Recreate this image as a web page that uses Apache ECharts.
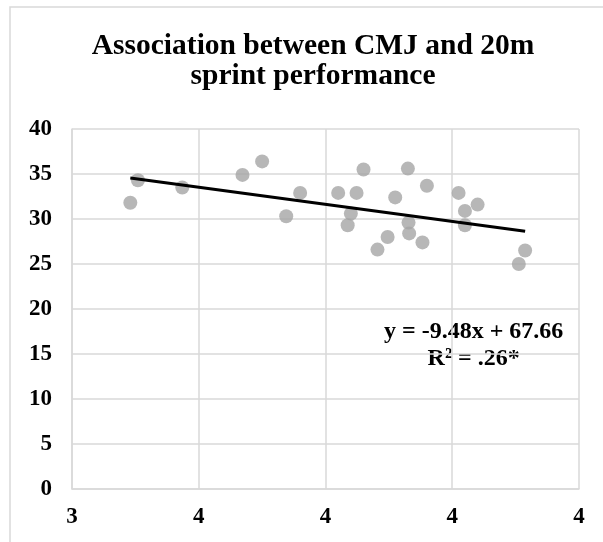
<!DOCTYPE html>
<html>
<head>
<meta charset="utf-8">
<script src="https://cdn.jsdelivr.net/npm/echarts@6/dist/echarts.min.js"></script>
<style>
  html, body { margin: 0; padding: 0; background: #fff; }
  #chart { width: 603px; height: 542px; }
</style>
</head>
<body>
<div id="chart"></div>
<script>
// data
const cmjX = [3.492, 3.504, 3.574, 3.669, 3.700, 3.738, 3.760, 3.820, 3.835, 3.840, 3.849, 3.860, 3.882,
  3.898, 3.910, 3.930, 3.931, 3.932, 3.953, 3.960, 4.010, 4.020, 4.020, 4.040, 4.105, 4.115];
const sprintY = [31.8, 34.3, 33.5, 34.9, 36.4, 30.3, 32.9, 32.9, 29.3, 30.6, 32.9, 35.5, 26.6,
  28.0, 32.4, 35.6, 29.6, 28.4, 27.4, 33.7, 32.9, 30.9, 29.3, 31.6, 25.0, 26.5];
const xTicks = [3.4, 3.6, 3.8, 4.0, 4.2];
const xTickLabels = ["3", "4", "4", "4", "4"];
const yTicks = [0, 5, 10, 15, 20, 25, 30, 35, 40];
const trendSlope = -9.48;
const trendIntercept = 67.66;
const eqText = "y = -9.48x + 67.66\nR\u00b2 = .26*";

(function () {
  const myChart = echarts.init(document.getElementById("chart"));
  const font = "'Liberation Serif', 'Times New Roman', serif";

  const points = cmjX.map(function (x, i) { return [x, sprintY[i]]; });
  const xLo = Math.min.apply(null, cmjX);
  const xHi = Math.max.apply(null, cmjX);
  const trend = [
    [xLo, trendSlope * xLo + trendIntercept],
    [xHi, trendSlope * xHi + trendIntercept],
  ];
  const step = xTicks[1] - xTicks[0];

  const option = {
    animation: false,
    title: {
      text: "Association between CMJ and 20m\nsprint performance",
      left: 308,
      top: 26,
      textAlign: "center",
      textStyle: {
        fontFamily: font,
        fontWeight: "bold",
        fontSize: 29.5,
        lineHeight: 30,
        color: "#000",
      },
    },
    graphic: [
      {
        type: "rect",
        shape: { x: 10, y: 7, width: 620, height: 560 },
        style: { fill: "none", stroke: "#d9d9d9", lineWidth: 1.5 },
        silent: true,
      },
      {
        type: "text",
        left: 384,
        top: 318,
        style: {
          text: eqText,
          fontFamily: font,
          fontWeight: "bold",
          fontSize: 24,
          lineHeight: 27,
          fill: "#000",
          textAlign: "center",
        },
      },
    ],
    grid: { left: 72, right: 24, top: 129, bottom: 53, containLabel: false },
    xAxis: {
      type: "value",
      min: xTicks[0],
      max: xTicks[xTicks.length - 1],
      interval: step,
      axisLine: { show: true, lineStyle: { color: "#d9d9d9", width: 1.5 } },
      axisTick: { show: false },
      splitLine: { show: true, lineStyle: { color: "#d9d9d9", width: 1.5 } },
      axisLabel: {
        margin: 17,
        fontFamily: font,
        fontWeight: "bold",
        fontSize: 23,
        color: "#000",
        formatter: function (v) {
          return xTickLabels[Math.round((v - xTicks[0]) / step)];
        },
      },
    },
    yAxis: {
      type: "value",
      min: yTicks[0],
      max: yTicks[yTicks.length - 1],
      interval: yTicks[1] - yTicks[0],
      axisLine: { show: true, lineStyle: { color: "#d9d9d9", width: 1.5 } },
      axisTick: { show: false },
      splitLine: { show: true, lineStyle: { color: "#d9d9d9", width: 1.5 } },
      axisLabel: {
        margin: 20,
        fontFamily: font,
        fontWeight: "bold",
        fontSize: 23,
        color: "#000",
      },
    },
    series: [
      {
        name: "CMJ vs sprint",
        type: "scatter",
        data: points,
        symbolSize: 14,
        itemStyle: { color: "#a5a5a5" },
        z: 2,
      },
      {
        name: "Trend",
        type: "line",
        data: trend,
        showSymbol: false,
        lineStyle: { color: "#000", width: 3 },
        z: 3,
      },
    ],
  };

  myChart.setOption(option);

  window.addEventListener("resize", function () {
    myChart.resize();
  });
})();
</script>
</body>
</html>
